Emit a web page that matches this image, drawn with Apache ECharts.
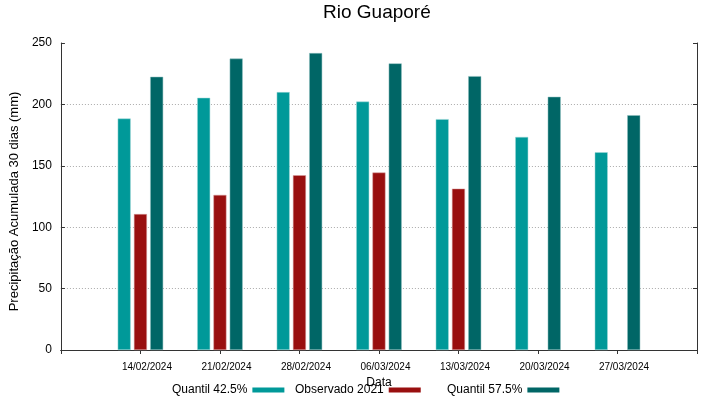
<!DOCTYPE html>
<html>
<head>
<meta charset="utf-8">
<script src="https://cdn.jsdelivr.net/npm/echarts@6/dist/echarts.min.js"></script>
<style>html,body{margin:0;padding:0;background:#fff}#c{width:719px;height:399px}</style>
</head>
<body>
<div id="c"></div>
<script>
const dates = ['14/02/2024','21/02/2024','28/02/2024','06/03/2024','13/03/2024','20/03/2024','27/03/2024'];
const q425 = [188.5, 205.4, 210, 202.3, 188, 173.5, 161];
const obs2021 = [110.7, 126.3, 142.3, 144.5, 131.4, null, null];
const q575 = [222.5, 237.3, 241.8, 233.4, 223, 206.2, 191.2];
const yTicks = [0, 50, 100, 150, 200, 250];
const seriesNames = ['Quantil 42.5%', 'Observado 2021', 'Quantil 57.5%'];

const cats = [''].concat(dates, ['']);
const pad = a => [null].concat(a, [null]);
const font = 'Liberation Sans, Arial, sans-serif';

const chart = echarts.init(document.getElementById('c'), null, {renderer: 'canvas'});
const mk = (name, data, color, border) => ({
  name, type: 'bar', data: pad(data), xAxisIndex: 0, yAxisIndex: 0,
  barWidth: 13, barGap: '25%',
  itemStyle: {color, borderColor: border, borderWidth: 0.5},
  emphasis: {disabled: true}
});
const lg = (name, left) => ({
  bottom: 3, left, padding: 0, itemWidth: 32, itemHeight: 5, align: 'right', icon: 'rect',
  itemStyle: {borderWidth: 0},
  textStyle: {fontFamily: font, fontSize: 12, color: '#000'},
  data: [name]
});
chart.setOption({
  animation: false,
  title: {text: 'Rio Guaporé', left: 323, top: 3, padding: 0,
    textStyle: {fontFamily: font, fontSize: 19, fontWeight: 'normal', color: '#000'}},
  grid: {left: 58, right: 22, top: 43, bottom: 49},
  legend: [lg(seriesNames[0], 172), lg(seriesNames[1], 295), lg(seriesNames[2], 447)],
  xAxis: [{
    type: 'category', data: cats, boundaryGap: false, position: 'bottom',
    name: 'Data', nameLocation: 'middle', nameGap: 18,
    nameTextStyle: {fontFamily: font, fontSize: 12, color: '#000'},
    axisLine: {lineStyle: {color: '#333', width: 1}},
    axisTick: {show: false},
    axisLabel: {fontFamily: font, fontSize: 10, color: '#000', margin: 12, padding: [0, 0, 0, 13], interval: 0},
    splitLine: {show: false}
  }, {
    type: 'category', data: cats, boundaryGap: false, position: 'top',
    axisLine: {lineStyle: {color: '#333', width: 1}},
    axisTick: {show: true, inside: true, length: 4, interval: 0, lineStyle: {color: '#333'}},
    axisLabel: {show: false}, splitLine: {show: false}
  }],
  yAxis: [{
    type: 'value', min: 0, max: 250, interval: 50, position: 'left',
    name: 'Precipitação Acumulada 30 dias (mm)', nameLocation: 'middle', nameGap: 31,
    nameTextStyle: {fontFamily: font, fontSize: 13, color: '#000', padding: [0, 10, 0, 0]},
    axisLine: {show: true, lineStyle: {color: '#333', width: 1}},
    axisTick: {show: true, inside: true, length: 4, lineStyle: {color: '#333'}},
    axisLabel: {fontFamily: font, fontSize: 12, color: '#000', margin: 9,
      formatter: v => yTicks.includes(v) ? String(v) : ''},
    splitLine: {show: true, showMinLine: false, showMaxLine: false, lineStyle: {color: '#aaa', type: [1, 2], width: 1}}
  }, {
    type: 'value', min: 0, max: 250, interval: 50, position: 'right',
    axisLine: {show: true, lineStyle: {color: '#333', width: 1}},
    axisTick: {show: true, inside: true, length: 4, lineStyle: {color: '#333'}},
    axisLabel: {show: false}, splitLine: {show: false}
  }],
  series: [
    mk(seriesNames[0], q425, '#009999', '#a0d8d8'),
    mk(seriesNames[1], obs2021, '#990f0f', '#d8a0a0'),
    mk(seriesNames[2], q575, '#006666', '#90c0c0')
  ]
});
</script>
</body>
</html>
